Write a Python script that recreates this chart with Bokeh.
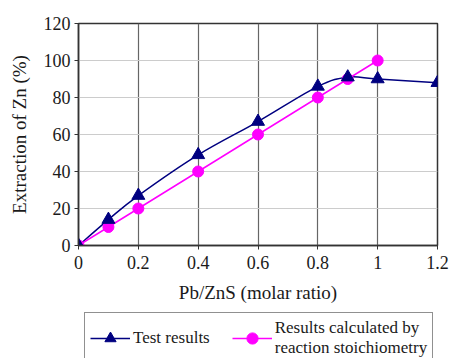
from bokeh.plotting import figure
from bokeh.models import Legend, LegendItem, FixedTicker, Range1d
from bokeh.layouts import column
from bokeh.embed import file_html
from bokeh.resources import INLINE

# Data
ratio_test = [0, 0.1, 0.2, 0.4, 0.6, 0.8, 0.9, 1.0, 1.2]
zn_test = [0, 14, 27, 49, 67, 86, 91, 90, 88]
ratio_calc = [0, 0.1, 0.2, 0.4, 0.6, 0.8, 0.9, 1.0]
zn_calc = [0, 10, 20, 40, 60, 80, 90, 100]
x_ticks = [0, 0.2, 0.4, 0.6, 0.8, 1.0, 1.2]
y_ticks = [0, 20, 40, 60, 80, 100, 120]
series_names = ["Test results", "Results calculated by\nreaction stoichiometry"]

FONT = "Liberation Serif"
NAVY = "#000080"
MAG = "#FF00FF"
TXT = "#1a1a1a"

p = figure(width=449, height=305, output_backend="svg", toolbar_location=None,
           x_range=Range1d(0, 1.2), y_range=Range1d(0, 120),
           min_border_left=78, min_border_right=12, min_border_top=23, min_border_bottom=10)
p.background_fill_color = "white"
p.border_fill_color = "white"
p.outline_line_color = "#333333"
p.outline_line_width = 1.5

p.xaxis.ticker = FixedTicker(ticks=x_ticks)
p.yaxis.ticker = FixedTicker(ticks=y_ticks)
p.xaxis.major_label_overrides = {0: "0", 0.2: "0.2", 0.4: "0.4", 0.6: "0.6", 0.8: "0.8", 1.0: "1", 1.2: "1.2"}
for ax in (p.xaxis, p.yaxis):
    ax.axis_line_color = "#333333"
    ax.axis_line_width = 1.5
    ax.major_tick_line_color = "#333333"
    ax.major_tick_out = 4
    ax.major_tick_in = 0
    ax.minor_tick_line_color = None
    ax.major_label_text_font = FONT
    ax.major_label_text_font_size = "18px"
    ax.major_label_text_color = TXT
    ax.axis_label_text_font = FONT
    ax.axis_label_text_font_size = "19px"
    ax.axis_label_text_font_style = "normal"
    ax.axis_label_text_color = TXT
p.xaxis.axis_label = "Pb/ZnS (molar ratio)"
p.yaxis.axis_label = "Extraction of Zn (%)"
p.xaxis.major_label_standoff = 6
p.yaxis.major_label_standoff = 4
p.xaxis.axis_label_standoff = 10
p.yaxis.axis_label_standoff = 11

p.xgrid.grid_line_color = "#666666"
p.xgrid.grid_line_width = 1.2
p.ygrid.grid_line_color = "#cccccc"
p.ygrid.grid_line_width = 1

# Smooth (Catmull-Rom as Bezier) curve for test results
n = len(ratio_test)
x0s, y0s, x1s, y1s, cx0, cy0, cx1, cy1 = [], [], [], [], [], [], [], []
t = 1.0 / 6.0
for i in range(n - 1):
    xa, ya = ratio_test[i], zn_test[i]
    xb, yb = ratio_test[i + 1], zn_test[i + 1]
    xp, yp = (ratio_test[i - 1], zn_test[i - 1]) if i > 0 else (xa, ya)
    xn, yn = (ratio_test[i + 2], zn_test[i + 2]) if i + 2 < n else (xb, yb)
    x0s.append(xa); y0s.append(ya); x1s.append(xb); y1s.append(yb)
    cx0.append(xa + (xb - xp) * t); cy0.append(ya + (yb - yp) * t)
    cx1.append(xb - (xn - xa) * t); cy1.append(yb - (yn - ya) * t)
p.bezier(x0=x0s, y0=y0s, x1=x1s, y1=y1s, cx0=cx0, cy0=cy0, cx1=cx1, cy1=cy1,
         line_color=NAVY, line_width=1.5)

p.line(ratio_calc, zn_calc, line_color=MAG, line_width=1.5)
p.scatter(ratio_calc, zn_calc, marker="circle", size=11, fill_color=MAG, line_color=MAG)
p.scatter(ratio_test, zn_test, marker="triangle", size=13, fill_color=NAVY, line_color=NAVY)

# Legend figure below the chart
q = figure(width=449, height=53, output_backend="svg", toolbar_location=None,
           x_range=Range1d(0, 1), y_range=Range1d(0, 1),
           x_axis_location=None, y_axis_location=None,
           min_border_left=0, min_border_right=0, min_border_top=0, min_border_bottom=0)
q.grid.visible = False
q.outline_line_color = None
q.background_fill_color = "white"
q.border_fill_color = "white"
a1 = q.line([-5, -4], [-5, -4], line_color=NAVY, line_width=1.5)
b1 = q.scatter([-5], [-5], marker="triangle", size=13, fill_color=NAVY, line_color=NAVY)
a2 = q.line([-5, -4], [-5, -4], line_color=MAG, line_width=1.5)
b2 = q.scatter([-5], [-5], marker="circle", size=11, fill_color=MAG, line_color=MAG)

legend = Legend(items=[
    LegendItem(label=series_names[0], renderers=[a1, b1]),
    LegendItem(label=series_names[1], renderers=[a2, b2]),
], orientation="horizontal", location=(6, -6))
legend.label_text_font = FONT
legend.label_text_font_size = "17px"
legend.label_text_color = TXT
legend.label_text_line_height = 1.05
legend.glyph_width = 40
legend.glyph_height = 28
legend.label_standoff = 3
legend.spacing = 22
legend.padding = 5
legend.margin = 0
legend.border_line_color = "#222222"
legend.border_line_width = 1.8
legend.background_fill_alpha = 1
q.add_layout(legend, "center")

layout = column(p, q, spacing=0)
open("out.html", "w").write(file_html(layout, INLINE))
